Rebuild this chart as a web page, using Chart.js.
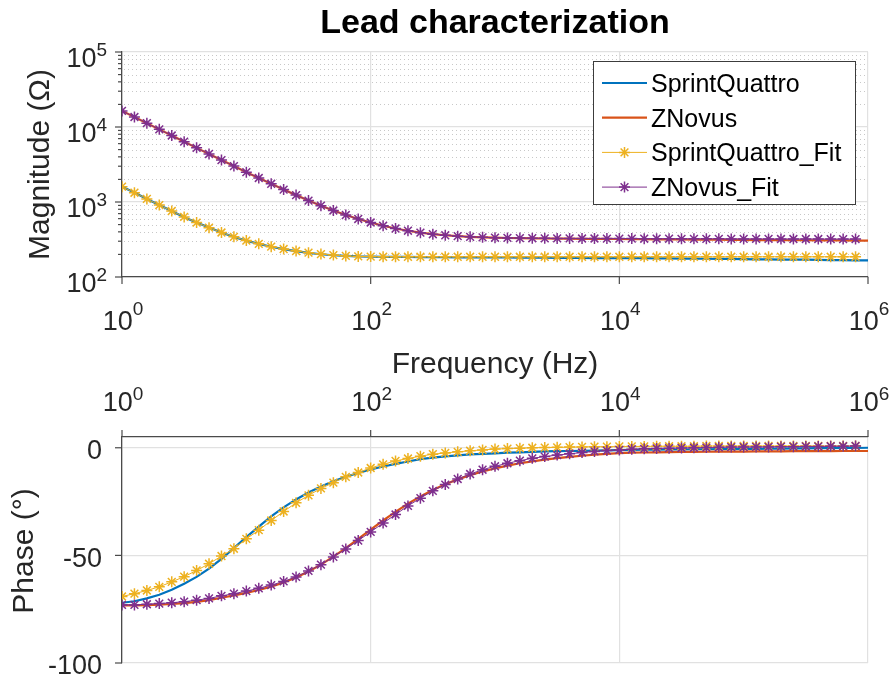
<!DOCTYPE html>
<html>
<head>
<meta charset="utf-8">
<title>Lead characterization</title>
<script src="https://cdn.jsdelivr.net/npm/chart.js@4.4.1/dist/chart.umd.min.js"></script>
<style>
  body { margin: 0; background: #fff; }
  #wrap { position: relative; width: 891px; height: 679px; }
  canvas { position: absolute; left: 0; }
  #mag { top: 0; }
  #phase { top: 380px; }
</style>
</head>
<body>
<div id="wrap">
  <canvas id="mag" width="891" height="380"></canvas>
  <canvas id="phase" width="891" height="299"></canvas>
</div>
<script>
// sample frequencies (Hz), ten per decade
const freq = [
  1, 1.259, 1.585, 1.995, 2.512, 3.162, 3.981, 5.012, 6.31, 7.943,
  10, 12.59, 15.85, 19.95, 25.12, 31.62, 39.81, 50.12, 63.1, 79.43,
  100, 125.9, 158.5, 199.5, 251.2, 316.2, 398.1, 501.2, 631, 794.3,
  1000, 1259, 1585, 1995, 2512, 3162, 3981, 5012, 6310, 7943,
  10000, 12590, 15850, 19950, 25120, 31620, 39810, 50120, 63100, 79430,
  100000, 125900, 158500, 199500, 251200, 316200, 398100, 501200, 631000, 794300,
  1000000
];

// magnitude (ohm)
const sqMag = [
  1600, 1335, 1100, 912, 758, 628, 532, 457, 392, 342,
  306, 277, 253, 235, 221, 210, 201, 195, 191, 188,
  187, 186, 185, 185, 184, 184, 184, 183, 183, 183,
  182, 182, 181, 181, 181, 180, 180, 180, 179, 179,
  179, 178, 178, 177, 177, 176, 176, 175, 174, 174,
  173, 172, 172, 171, 170, 170, 169, 168, 168, 167,
  167
];
const znMag = [
  16400, 13600, 11250, 9300, 7700, 6370, 5270, 4370, 3620, 3010,
  2500, 2090, 1750, 1465, 1235, 1045, 893, 770, 670, 594,
  533, 482, 443, 414, 390, 372, 360, 350, 343, 338,
  334, 331, 329, 327, 326, 325, 324, 323, 322, 322,
  321, 320, 319, 318, 317, 316, 315, 314, 314, 313,
  312, 311, 311, 310, 309, 309, 308, 307, 307, 306,
  305
];
const sqFitMag = [
  1600, 1330, 1100, 910, 758, 632, 532, 455, 392, 343,
  306, 277, 254, 236, 222, 211, 202, 196, 191, 188,
  187, 186, 186, 186, 186, 186, 186, 186, 186, 186,
  186, 186, 186, 186, 186, 186, 186, 186, 186, 186,
  186, 186, 186, 186, 186, 186, 186, 186, 186, 186,
  186, 186, 186, 186, 186, 186, 186, 186, 186, 186
];
const znFitMag = [
  16400, 13600, 11250, 9300, 7700, 6370, 5270, 4370, 3620, 3010,
  2500, 2090, 1750, 1465, 1235, 1045, 893, 770, 670, 594,
  533, 482, 443, 414, 390, 372, 360, 350, 343, 338,
  334, 332, 330, 329, 328, 327, 327, 326, 326, 325,
  325, 325, 324, 324, 324, 323, 323, 323, 323, 322,
  322, 322, 322, 321, 321, 321, 321, 320, 320, 320
];

// phase (deg)
const sqPhase = [
  -72.0, -71.3, -70.0, -68.3, -66.0, -63.2, -60.0, -56.2, -51.6, -46.6,
  -41.5, -36.6, -31.9, -27.7, -24.0, -20.8, -18.0, -15.6, -13.5, -11.7,
  -10.1, -8.7, -7.5, -6.4, -5.3, -4.6, -4.0, -3.5, -3.1, -2.8,
  -2.6, -2.3, -2.1, -1.9, -1.7, -1.6, -1.5, -1.4, -1.3, -1.2,
  -1.1, -1.0, -0.9, -0.9, -0.8, -0.8, -0.7, -0.7, -0.6, -0.6,
  -0.5, -0.5, -0.4, -0.4, -0.3, -0.3, -0.2, -0.2, -0.1, -0.1,
  0.0
];
const znPhase = [
  -73.2, -73.2, -73.1, -72.9, -72.6, -72.2, -71.6, -70.8, -69.7, -68.6,
  -67.4, -66.1, -64.5, -62.6, -60.3, -57.5, -54.3, -50.6, -46.6, -42.3,
  -38.0, -33.8, -29.8, -26.0, -22.6, -19.6, -17.0, -14.7, -12.7, -11.0,
  -9.6, -8.3, -7.2, -6.3, -5.5, -4.8, -4.2, -3.7, -3.2, -2.8,
  -2.5, -2.3, -2.2, -2.1, -2.0, -1.95, -1.9, -1.85, -1.8, -1.8,
  -1.75, -1.7, -1.7, -1.65, -1.6, -1.6, -1.6, -1.55, -1.5, -1.5,
  -1.5
];
const sqFitPhase = [
  -69.1, -67.8, -66.3, -64.6, -62.3, -59.9, -57.0, -53.9, -50.3, -46.9,
  -42.3, -38.3, -33.8, -29.6, -25.6, -22.1, -18.9, -16.2, -13.5, -11.5,
  -9.4, -7.7, -6.1, -5.0, -3.9, -3.0, -2.4, -1.9, -1.4, -1.0,
  -0.6, -0.4, -0.2, 0.0, 0.1, 0.2, 0.3, 0.4, 0.5, 0.5,
  0.6, 0.6, 0.6, 0.7, 0.7, 0.7, 0.7, 0.8, 0.8, 0.8,
  0.8, 0.8, 0.8, 0.8, 0.8, 0.8, 0.8, 0.8, 0.8, 0.8
];
const znFitPhase = [
  -73.0, -73.0, -72.7, -72.4, -72.0, -71.5, -70.8, -70.0, -68.8, -67.8,
  -66.6, -65.3, -63.8, -62.1, -60.0, -57.2, -54.3, -50.7, -47.0, -43.1,
  -39.1, -35.0, -31.0, -27.0, -23.4, -20.0, -17.1, -14.5, -12.2, -10.2,
  -8.6, -7.2, -6.0, -4.9, -4.1, -3.4, -2.8, -2.2, -1.7, -1.3,
  -1.0, -0.7, -0.5, -0.3, -0.2, -0.1, 0.0, 0.1, 0.2, 0.3,
  0.3, 0.4, 0.4, 0.5, 0.5, 0.6, 0.6, 0.7, 0.7, 0.8
];

const seriesNames = ['SprintQuattro', 'ZNovus', 'SprintQuattro_Fit', 'ZNovus_Fit'];
const seriesColors = ['#0072BD', '#D95319', '#EDB120', '#7E2F8E'];
const freqTicks = [1, 1e2, 1e4, 1e6];
const magTicks = [1e2, 1e3, 1e4, 1e5];
const phaseTicks = [-100, -50, 0];
const minorSteps = [2, 3, 4, 5, 6, 7, 8, 9];

const FONT = '"Liberation Sans", Arial, Helvetica, sans-serif';
const INK = '#262626';
const AXIS = '#4a4a4a';
const GRID = '#e1e1e1';
Chart.defaults.font.family = FONT;

function makeSets(vals) {
  return vals.map((v, i) => {
    const fit = i >= 2;
    return {
      label: seriesNames[i],
      data: v.map((y, j) => ({ x: freq[j], y: y })),
      borderColor: seriesColors[i],
      backgroundColor: seriesColors[i],
      borderWidth: fit ? 1 : 2.2,
      pointStyle: 'star',
      pointRadius: fit ? 5.5 : 0,
      pointHoverRadius: fit ? 5.5 : 0,
      pointBorderWidth: 1.5,
      order: 4 - i,
      tension: 0
    };
  });
}

function logX(pos) {
  return {
    type: 'logarithmic', position: pos, min: 1, max: 1e6,
    afterBuildTicks: s => { s.ticks = freqTicks.map(v => ({ value: v })); },
    ticks: { display: false },
    grid: { color: GRID, lineWidth: 1.2, drawTicks: false },
    border: { display: true, color: AXIS, width: 1.3 }
  };
}

// "10" with a raised exponent; yb / ye are the centres of the digits
function powLabel(ctx, x, yb, ye, e, align) {
  ctx.font = '27px ' + FONT;
  const wb = ctx.measureText('10').width;
  ctx.font = '19px ' + FONT;
  const we = ctx.measureText(String(e)).width;
  const left = align === 'right' ? x - wb - we : x - (wb + we) / 2;
  ctx.textAlign = 'left';
  ctx.textBaseline = 'alphabetic';
  ctx.fillStyle = INK;
  ctx.font = '27px ' + FONT;
  ctx.fillText('10', left, yb + 9.7);
  ctx.font = '19px ' + FONT;
  ctx.fillText(String(e), left + wb, ye + 6.8);
}

function tick(ctx, x1, y1, x2, y2) {
  ctx.beginPath(); ctx.moveTo(x1, y1); ctx.lineTo(x2, y2); ctx.stroke();
}

function starMark(ctx, x, y, r) {
  const d = r * Math.SQRT1_2;
  ctx.beginPath();
  ctx.moveTo(x, y - r); ctx.lineTo(x, y + r);
  ctx.moveTo(x - r, y); ctx.lineTo(x + r, y);
  ctx.moveTo(x - d, y - d); ctx.lineTo(x + d, y + d);
  ctx.moveTo(x - d, y + d); ctx.lineTo(x + d, y - d);
  ctx.stroke();
}

const magDecor = {
  id: 'magDecor',
  beforeDatasetsDraw(chart) {
    const { ctx, chartArea: a, scales: { y } } = chart;
    ctx.save();
    ctx.strokeStyle = '#c8c8c8';
    ctx.lineWidth = 1;
    ctx.setLineDash([1, 3]);
    magTicks.slice(0, -1).forEach(d => {
      minorSteps.forEach(m => {
        const py = Math.round(y.getPixelForValue(m * d)) + 0.5;
        tick(ctx, a.left + 2, py, a.right, py);
      });
    });
    ctx.restore();
  },
  afterDraw(chart) {
    const { ctx, chartArea: a, scales: { x, y } } = chart;
    ctx.save();
    ctx.strokeStyle = AXIS;
    ctx.lineWidth = 1.2;
    magTicks.forEach(v => {
      const py = y.getPixelForValue(v);
      tick(ctx, a.left - 7, py, a.left, py);
      powLabel(ctx, a.left - 15, py + 5.5, py - 3, Math.round(Math.log10(v)), 'right');
    });
    magTicks.slice(0, -1).forEach(d => {
      minorSteps.forEach(m => {
        const py = y.getPixelForValue(m * d);
        tick(ctx, a.left - 4, py, a.left, py);
      });
    });
    freqTicks.forEach(v => {
      const px = x.getPixelForValue(v);
      tick(ctx, px, a.bottom, px, a.bottom + 7);
      powLabel(ctx, px + 1, a.bottom + 43, a.bottom + 31, Math.round(Math.log10(v)), 'center');
    });

    // axis titles
    ctx.fillStyle = INK;
    ctx.font = '30px ' + FONT;
    ctx.textAlign = 'center';
    ctx.textBaseline = 'alphabetic';
    ctx.fillText('Frequency (Hz)', (a.left + a.right) / 2, 373);
    ctx.save();
    ctx.translate(49, (a.top + a.bottom) / 2);
    ctx.rotate(-Math.PI / 2);
    ctx.fillText('Magnitude (\u03A9)', 0, 0);
    ctx.restore();

    // legend box
    const bw = 262, bh = 143;
    const bx = a.right - 13 - bw, by = a.top + 9;
    ctx.fillStyle = '#fff';
    ctx.fillRect(bx, by, bw, bh);
    ctx.strokeStyle = '#3c3c3c';
    ctx.lineWidth = 1;
    ctx.strokeRect(Math.round(bx) + 0.5, Math.round(by) + 0.5, bw, bh);
    ctx.font = '25px ' + FONT;
    ctx.textAlign = 'left';
    seriesNames.forEach((name, i) => {
      const ry = by + 22 + i * 34.7;
      const fit = i >= 2;
      ctx.strokeStyle = seriesColors[i];
      ctx.lineWidth = fit ? 1 : 2.2;
      tick(ctx, bx + 9, ry, bx + 54, ry);
      if (fit) { ctx.lineWidth = 1.5; starMark(ctx, bx + 31.5, ry, 5.5); }
      ctx.fillStyle = '#000';
      ctx.fillText(name, bx + 58, ry + 9);
    });
    ctx.restore();
  }
};

const phaseDecor = {
  id: 'phaseDecor',
  afterDraw(chart) {
    const { ctx, chartArea: a, scales: { x, y } } = chart;
    ctx.save();
    ctx.strokeStyle = AXIS;
    ctx.lineWidth = 1.2;
    freqTicks.forEach(v => {
      const px = x.getPixelForValue(v);
      tick(ctx, px, a.top - 7, px, a.top);
      powLabel(ctx, px + 1, a.top - 36, a.top - 44, Math.round(Math.log10(v)), 'center');
    });
    ctx.fillStyle = INK;
    ctx.font = '27px ' + FONT;
    ctx.textAlign = 'right';
    ctx.textBaseline = 'alphabetic';
    phaseTicks.forEach(v => {
      const py = y.getPixelForValue(v);
      tick(ctx, a.left - 7, py, a.left, py);
      ctx.fillText(String(v), a.left - 20, py + 1.5 + 9.7);
    });
    ctx.font = '30px ' + FONT;
    ctx.textAlign = 'center';
    ctx.save();
    ctx.translate(33, 171);
    ctx.rotate(-Math.PI / 2);
    ctx.fillText('Phase (\u00B0)', 0, 0);
    ctx.restore();
    ctx.restore();
  }
};

new Chart(document.getElementById('mag'), {
  type: 'line',
  data: { datasets: makeSets([sqMag, znMag, sqFitMag, znFitMag]) },
  options: {
    responsive: false,
    animation: false,
    events: [],
    layout: { padding: { left: 122, right: 23, top: 0, bottom: 103 } },
    plugins: {
      legend: { display: false },
      tooltip: { enabled: false },
      title: {
        display: true,
        text: 'Lead characterization',
        color: '#000',
        font: { size: 34, weight: 'bold' },
        padding: { top: 3, bottom: 8.2 }
      }
    },
    scales: {
      x: logX('bottom'),
      y: {
        type: 'logarithmic', min: 1e2, max: 1e5,
        afterBuildTicks: s => { s.ticks = magTicks.map(v => ({ value: v })); },
        ticks: { display: false },
        grid: { color: GRID, lineWidth: 1.2, drawTicks: false },
        border: { display: true, color: AXIS, width: 1.3 }
      }
    }
  },
  plugins: [magDecor]
});

new Chart(document.getElementById('phase'), {
  type: 'line',
  data: { datasets: makeSets([sqPhase, znPhase, sqFitPhase, znFitPhase]) },
  options: {
    responsive: false,
    animation: false,
    events: [],
    layout: { padding: { left: 122, right: 23, top: 57, bottom: 16 } },
    plugins: { legend: { display: false }, tooltip: { enabled: false } },
    scales: {
      x: logX('top'),
      y: {
        type: 'linear', min: -100, max: 5,
        afterBuildTicks: s => { s.ticks = phaseTicks.map(v => ({ value: v })); },
        ticks: { display: false },
        grid: { color: GRID, lineWidth: 1.2, drawTicks: false },
        border: { display: true, color: AXIS, width: 1.3 }
      }
    }
  },
  plugins: [phaseDecor]
});
</script>
</body>
</html>
